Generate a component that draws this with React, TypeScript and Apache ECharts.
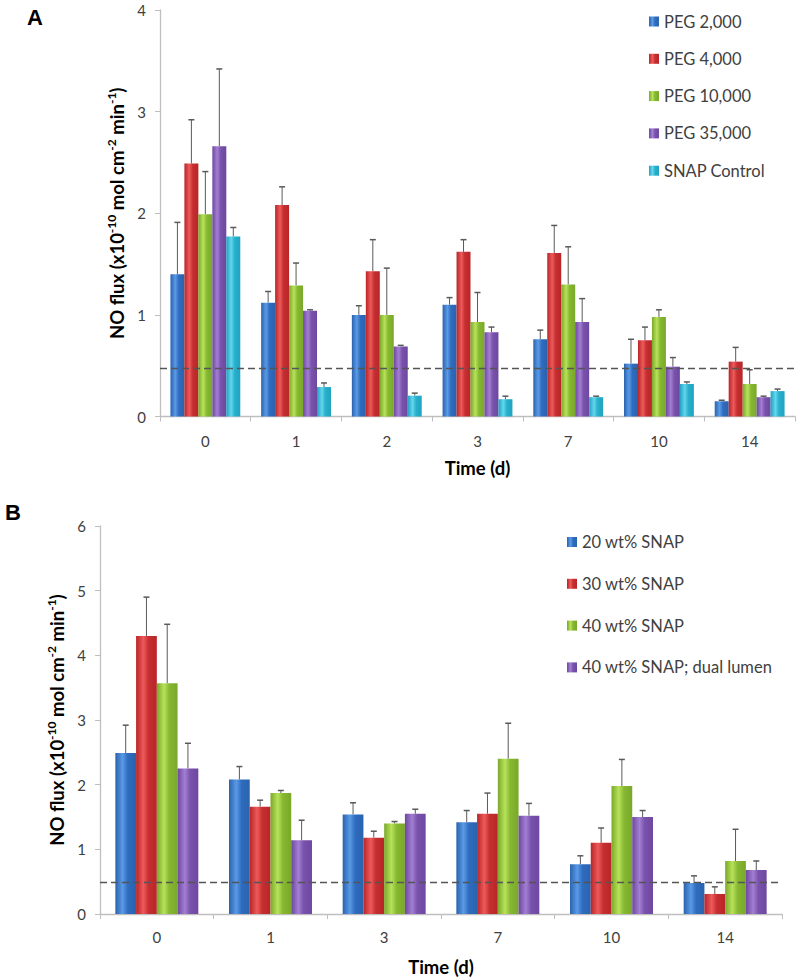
import React, { useEffect, useRef } from "react";
import * as echarts from "echarts";

// ---------- Panel A data ----------
const daysA = ["0", "1", "2", "3", "7", "10", "14"];
const namesA = ["PEG 2,000", "PEG 4,000", "PEG 10,000", "PEG 35,000", "SNAP Control"];
const peg2000 = [1.40, 1.12, 1.00, 1.10, 0.76, 0.52, 0.15];
const peg2000Err = [0.51, 0.11, 0.09, 0.07, 0.09, 0.24, 0.01];
const peg4000 = [2.49, 2.08, 1.43, 1.62, 1.61, 0.75, 0.54];
const peg4000Err = [0.43, 0.18, 0.31, 0.12, 0.27, 0.13, 0.14];
const peg10000 = [1.99, 1.29, 1.00, 0.93, 1.30, 0.98, 0.32];
const peg10000Err = [0.42, 0.22, 0.46, 0.29, 0.37, 0.07, 0.14];
const peg35000 = [2.66, 1.04, 0.69, 0.83, 0.93, 0.49, 0.19];
const peg35000Err = [0.76, 0.01, 0.01, 0.05, 0.23, 0.09, 0.01];
const snapControl = [1.77, 0.29, 0.205, 0.17, 0.19, 0.32, 0.25];
const snapControlErr = [0.09, 0.04, 0.025, 0.03, 0.01, 0.02, 0.02];
const thresholdA = 0.465;

// ---------- Panel B data ----------
const daysB = ["0", "1", "3", "7", "10", "14"];
const namesB = ["20 wt% SNAP", "30 wt% SNAP", "40 wt% SNAP", "40 wt% SNAP; dual lumen"];
const wt20 = [2.49, 2.08, 1.54, 1.42, 0.77, 0.48];
const wt20Err = [0.43, 0.20, 0.18, 0.18, 0.13, 0.11];
const wt30 = [4.30, 1.66, 1.18, 1.55, 1.10, 0.31];
const wt30Err = [0.60, 0.10, 0.10, 0.32, 0.23, 0.11];
const wt40 = [3.57, 1.87, 1.40, 2.40, 1.98, 0.82];
const wt40Err = [0.91, 0.04, 0.03, 0.55, 0.41, 0.49];
const wt40Dual = [2.25, 1.14, 1.55, 1.52, 1.50, 0.68];
const wt40DualErr = [0.39, 0.31, 0.07, 0.19, 0.10, 0.14];
const thresholdB = 0.49;

const colorsA = [
  ["#2a63ad", "#5a9ae6", "#2f6cbf"],
  ["#b82528", "#ee5a5a", "#c62f31"],
  ["#7aa82a", "#b8e25a", "#86b832"],
  ["#6e47a0", "#a37fd3", "#7852ab"],
  ["#1fa3c0", "#64d6ee", "#28b0cd"],
];
const colorsB = colorsA.slice(0, 4);

const grad = (c: string[]) =>
  new echarts.graphic.LinearGradient(0, 0, 1, 0, [
    { offset: 0, color: c[0] },
    { offset: 0.35, color: c[1] },
    { offset: 0.6, color: c[2] },
    { offset: 1, color: c[0] },
  ]);

const yName =
  "{b|NO flux (x10}{s|-10}{b| mol cm}{s|-2}{b| min}{s|-1}{b|)}";
const yNameRich = {
  b: { fontSize: 18.5, fontWeight: "bold", color: "#000", lineHeight: 23, fontFamily: "Lato" },
  s: { fontSize: 12, fontWeight: "bold", color: "#000", verticalAlign: "top", lineHeight: 12, fontFamily: "Lato" },
};

const axisGray = "#bfbfbf";
const labelColor = "#404040";

function buildPanel(
  gridIndex: number,
  values: number[][],
  errs: number[][],
  names: string[],
  colors: string[][],
  gapRatio: number,
  threshold: number
) {
  const n = values.length;
  const series: any[] = [];
  values.forEach((vals, i) => {
    series.push({
      type: "bar",
      name: names[i],
      xAxisIndex: gridIndex,
      yAxisIndex: gridIndex,
      data: vals,
      barGap: "0%",
      barCategoryGap: gapRatio * 100 + "%",
      itemStyle: { color: grad(colors[i]) },
      z: 2,
      markLine:
        i === 0
          ? {
              silent: true,
              symbol: "none",
              label: { show: false },
              lineStyle: { color: "#555", type: [7, 4], width: 1.3 },
              data: [{ yAxis: threshold }],
              z: 10,
            }
          : undefined,
    });
  });
  values.forEach((vals, i) => {
    series.push({
      type: "custom",
      name: names[i] + " err",
      xAxisIndex: gridIndex,
      yAxisIndex: gridIndex,
      z: 1,
      data: vals.map((v, k) => [k, v, v + errs[i][k]]),
      renderItem: (params: any, api: any) => {
        const cat = api.value(0);
        const base = api.coord([cat, api.value(1)]);
        const top = api.coord([cat, api.value(2)]);
        const catW = api.size([1, 0])[0];
        const groupW = catW * (1 - gapRatio);
        const barW = groupW / n;
        const x = base[0] - groupW / 2 + (i + 0.5) * barW;
        const st = { stroke: "#595959", lineWidth: 1 };
        return {
          type: "group",
          children: [
            { type: "line", shape: { x1: x, y1: base[1], x2: x, y2: top[1] }, style: st },
            { type: "line", shape: { x1: x - 3, y1: top[1], x2: x + 3, y2: top[1] }, style: { ...st, lineWidth: 1.5 } },
          ],
        };
      },
    });
  });
  return series;
}

export default function App() {
  const ref = useRef<HTMLDivElement>(null);
  useEffect(() => {
    if (!ref.current) return;
    const chart = echarts.init(ref.current, undefined, { renderer: "svg" });
    const xAxisCommon = (data: string[], gi: number, gap: number, margin: number) => ({
      type: "category",
      gridIndex: gi,
      data,
      name: "Time (d)",
      nameLocation: "middle",
      nameGap: gap,
      nameTextStyle: { fontSize: 18.5, fontWeight: "bold", color: "#000", fontFamily: "Lato" },
      axisLine: { lineStyle: { color: axisGray, width: 1.3 } },
      axisTick: { show: true, length: 5, lineStyle: { color: axisGray } },
      axisLabel: { fontSize: 15, color: labelColor, margin, fontFamily: "Lato" },
    });
    const yAxisCommon = (gi: number, max: number, gap: number) => ({
      type: "value",
      gridIndex: gi,
      min: 0,
      max,
      interval: 1,
      name: yName,
      nameLocation: "middle",
      nameRotate: 90,
      nameGap: gap,
      nameTextStyle: { rich: yNameRich },
      splitLine: { show: false },
      axisLine: { show: true, lineStyle: { color: axisGray, width: 1.3 } },
      axisTick: { show: true, length: 5, lineStyle: { color: axisGray } },
      axisLabel: { fontSize: 15, color: labelColor, margin: 14, fontFamily: "Lato" },
    });
    const legendText = { fontSize: 16.5, color: labelColor, lineHeight: 14, fontFamily: "Lato" };
    const option: any = {
      animation: false,
      backgroundColor: "#fff",
      textStyle: { fontFamily: "Lato" },
      grid: [
        { left: 160, top: 10, width: 635, height: 406.5 },
        { left: 100, top: 526, width: 682, height: 388 },
      ],
      xAxis: [xAxisCommon(daysA, 0, 42, 17), xAxisCommon(daysB, 1, 43, 15)],
      yAxis: [yAxisCommon(0, 4, 28), yAxisCommon(1, 6, 30)],
      legend: [
        {
          data: namesA,
          orient: "vertical",
          left: 644,
          top: 8,
          icon: "rect",
          itemWidth: 10,
          itemHeight: 10,
          itemGap: 20.3,
          textStyle: legendText,
          selectedMode: false,
        },
        {
          data: namesB,
          orient: "vertical",
          left: 562,
          top: 528.5,
          icon: "rect",
          itemWidth: 10,
          itemHeight: 10,
          itemGap: 24.8,
          textStyle: legendText,
          selectedMode: false,
        },
      ],
      graphic: [
        { type: "text", left: 27, top: 6, style: { text: "A", fontSize: 22, fontWeight: "bold", fill: "#000", fontFamily: "Liberation Sans" } },
        { type: "text", left: 5, top: 501, style: { text: "B", fontSize: 22, fontWeight: "bold", fill: "#000", fontFamily: "Liberation Sans" } },
      ],
      series: [
        ...buildPanel(
          0,
          [peg2000, peg4000, peg10000, peg35000, snapControl],
          [peg2000Err, peg4000Err, peg10000Err, peg35000Err, snapControlErr],
          namesA,
          colorsA,
          0.23,
          thresholdA
        ),
        ...buildPanel(
          1,
          [wt20, wt30, wt40, wt40Dual],
          [wt20Err, wt30Err, wt40Err, wt40DualErr],
          namesB,
          colorsB,
          0.27,
          thresholdB
        ),
      ],
    };
    chart.setOption(option);
    return () => chart.dispose();
  }, []);
  return (
    <div
      ref={ref}
      style={{ position: "absolute", left: 0, top: 0, width: 800, height: 980, background: "#fff" }}
    />
  );
}
